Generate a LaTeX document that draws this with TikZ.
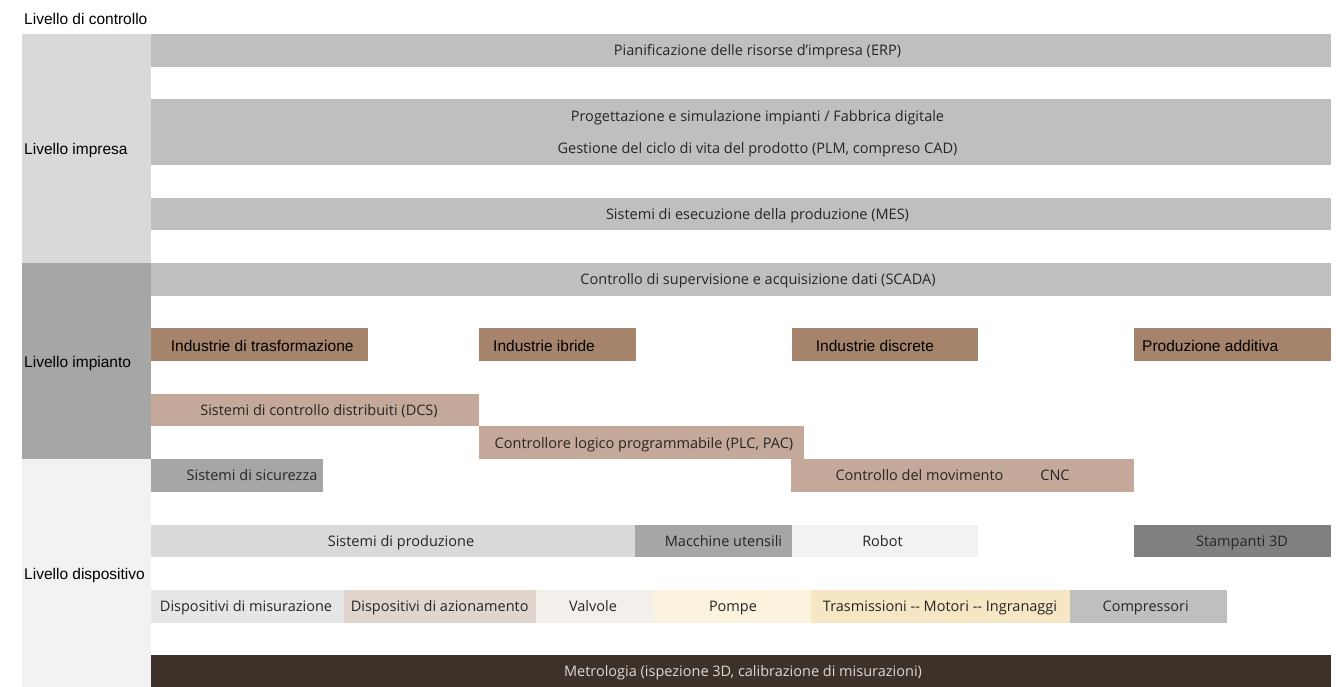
\documentclass[tikz,border=0pt]{standalone}
\usepackage{fontspec}
\setmainfont{Liberation Sans}
\newfontfamily\segoe{Open Sans}
\usetikzlibrary{positioning}
\definecolor{impresa}{HTML}{D9D9D9}
\definecolor{impianto}{HTML}{A6A6A6}
\definecolor{dispositivo}{HTML}{F2F2F2}
\definecolor{entgray}{HTML}{BFBFBF}
\definecolor{indbrown}{HTML}{A5846B}
\definecolor{ctrlbrown}{HTML}{C4A99A}
\definecolor{midgray}{HTML}{A6A6A6}
\definecolor{dkgray}{HTML}{808080}
\definecolor{misgray}{HTML}{E7E6E6}
\definecolor{azbeige}{HTML}{E1D6CE}
\definecolor{valvbeige}{HTML}{F3F0EB}
\definecolor{pompcream}{HTML}{FBF3DE}
\definecolor{trascream}{HTML}{F5E7C4}
\definecolor{metrobrown}{HTML}{3D3129}
\definecolor{txtgray}{HTML}{262626}
\tikzset{lab/.style={anchor=west, inner sep=0, text height=12.8pt, text depth=0pt, font=\fontsize{15.5}{18}\selectfont},
         txt/.style={inner sep=0, text=txtgray, text height=11.5pt, text depth=1.1pt, font=\segoe\fontsize{14.5}{17}\selectfont}}

\begin{document}
\begin{tikzpicture}[x=1pt, y=-1pt]
    \useasboundingbox (0,0) rectangle (1336,686);

    % left column
    \fill[impresa] (22,34) rectangle (151,262.9);
    \fill[impianto] (22,262.9) rectangle (151,459.1);
    \fill[dispositivo] (22,459.1) rectangle (151,688);

    % bars, one row is 32.7 high
    \foreach \xa/\xb/\r/\c in {151/1331/0/entgray, 151/1331/2/entgray, 151/1331/3/entgray,
                               151/1331/5/entgray, 151/1331/7/entgray,
                               151/368/9/indbrown, 479/636/9/indbrown, 792/978/9/indbrown, 1134/1331/9/indbrown,
                               151/479/11/ctrlbrown, 479/804/12/ctrlbrown,
                               151/323/13/midgray, 791/1134/13/ctrlbrown,
                               151/635/15/impresa, 635/792/15/midgray, 792/978/15/dispositivo, 1134/1331/15/dkgray,
                               151/344/17/misgray, 344/536/17/azbeige, 536/654/17/valvbeige,
                               654/811/17/pompcream, 811/1070/17/trascream, 1070/1227/17/entgray,
                               151/1331/19/metrobrown}
    {
      \fill[\c] (\xa,{34+32.7*\r}) rectangle (\xb,{34+32.7*(\r+1)});
    }

    \node[lab] (ctrl) at (24,18) {Livello di controllo};
    \node[lab] (imp) at (24,148.5) {Livello impresa};
    \node[lab] (pla) at (24,361) {Livello impianto};
    \node[lab] (dev) at (24,573.5) {Livello dispositivo};

    \node[txt] (erp) at (757.5,50.4) {Pianificazione delle risorse d’impresa (ERP)};
    \node[txt] (dig) at (757.5,115.8) {Progettazione e simulazione impianti / Fabbrica digitale};
    \node[txt] (plm) at (757.5,148.5) {Gestione del ciclo di vita del prodotto (PLM, compreso CAD)};
    \node[txt] (mes) at (757.5,213.9) {Sistemi di esecuzione della produzione (MES)};
    \node[txt] (scada) at (758,279.3) {Controllo di supervisione e acquisizione dati (SCADA)};

    \node[lab] (trasf) at (170.7,344.7) {Industrie di trasformazione};
    \node[lab] (ibr) at (493,344.7) {Industrie ibride};
    \node[lab] (disc) at (815.7,344.7) {Industrie discrete};
    \node[lab] (add) at (1142,344.7) {Produzione additiva};

    \node[txt] (dcs) at (319,410.1) {Sistemi di controllo distribuiti (DCS)};
    \node[txt] (plc) at (644,442.8) {Controllore logico programmabile (PLC, PAC)};
    \node[txt] (sic) at (252,475.5) {Sistemi di sicurezza};
    \node[txt] (mov) at (919.5,475.5) {Controllo del movimento};
    \node[txt] (cnc) at (1055,475.5) {CNC};

    \node[txt] (prod) at (401,540.9) {Sistemi di produzione};
    \node[txt] (mac) at (723.5,540.9) {Macchine utensili};
    \node[txt] (rob) at (882.5,540.9) {Robot};
    \node[txt] (stam) at (1242,540.9) {Stampanti 3D};

    \node[txt] (mis) at (246,606.3) {Dispositivi di misurazione};
    \node[txt] (az) at (439.7,606.3) {Dispositivi di azionamento};
    \node[txt] (valv) at (593,606.3) {Valvole};
    \node[txt] (pomp) at (733,606.3) {Pompe};
    \node[txt] (tras) at (940,606.3) {Trasmissioni {-}{-} Motori {-}{-} Ingranaggi};
    \node[txt] (comp) at (1145.7,606.3) {Compressori};

    \node[txt, text=impresa] (metro) at (743,671.7) {Metrologia (ispezione 3D, calibrazione di misurazioni)};
\end{tikzpicture}
\end{document}
